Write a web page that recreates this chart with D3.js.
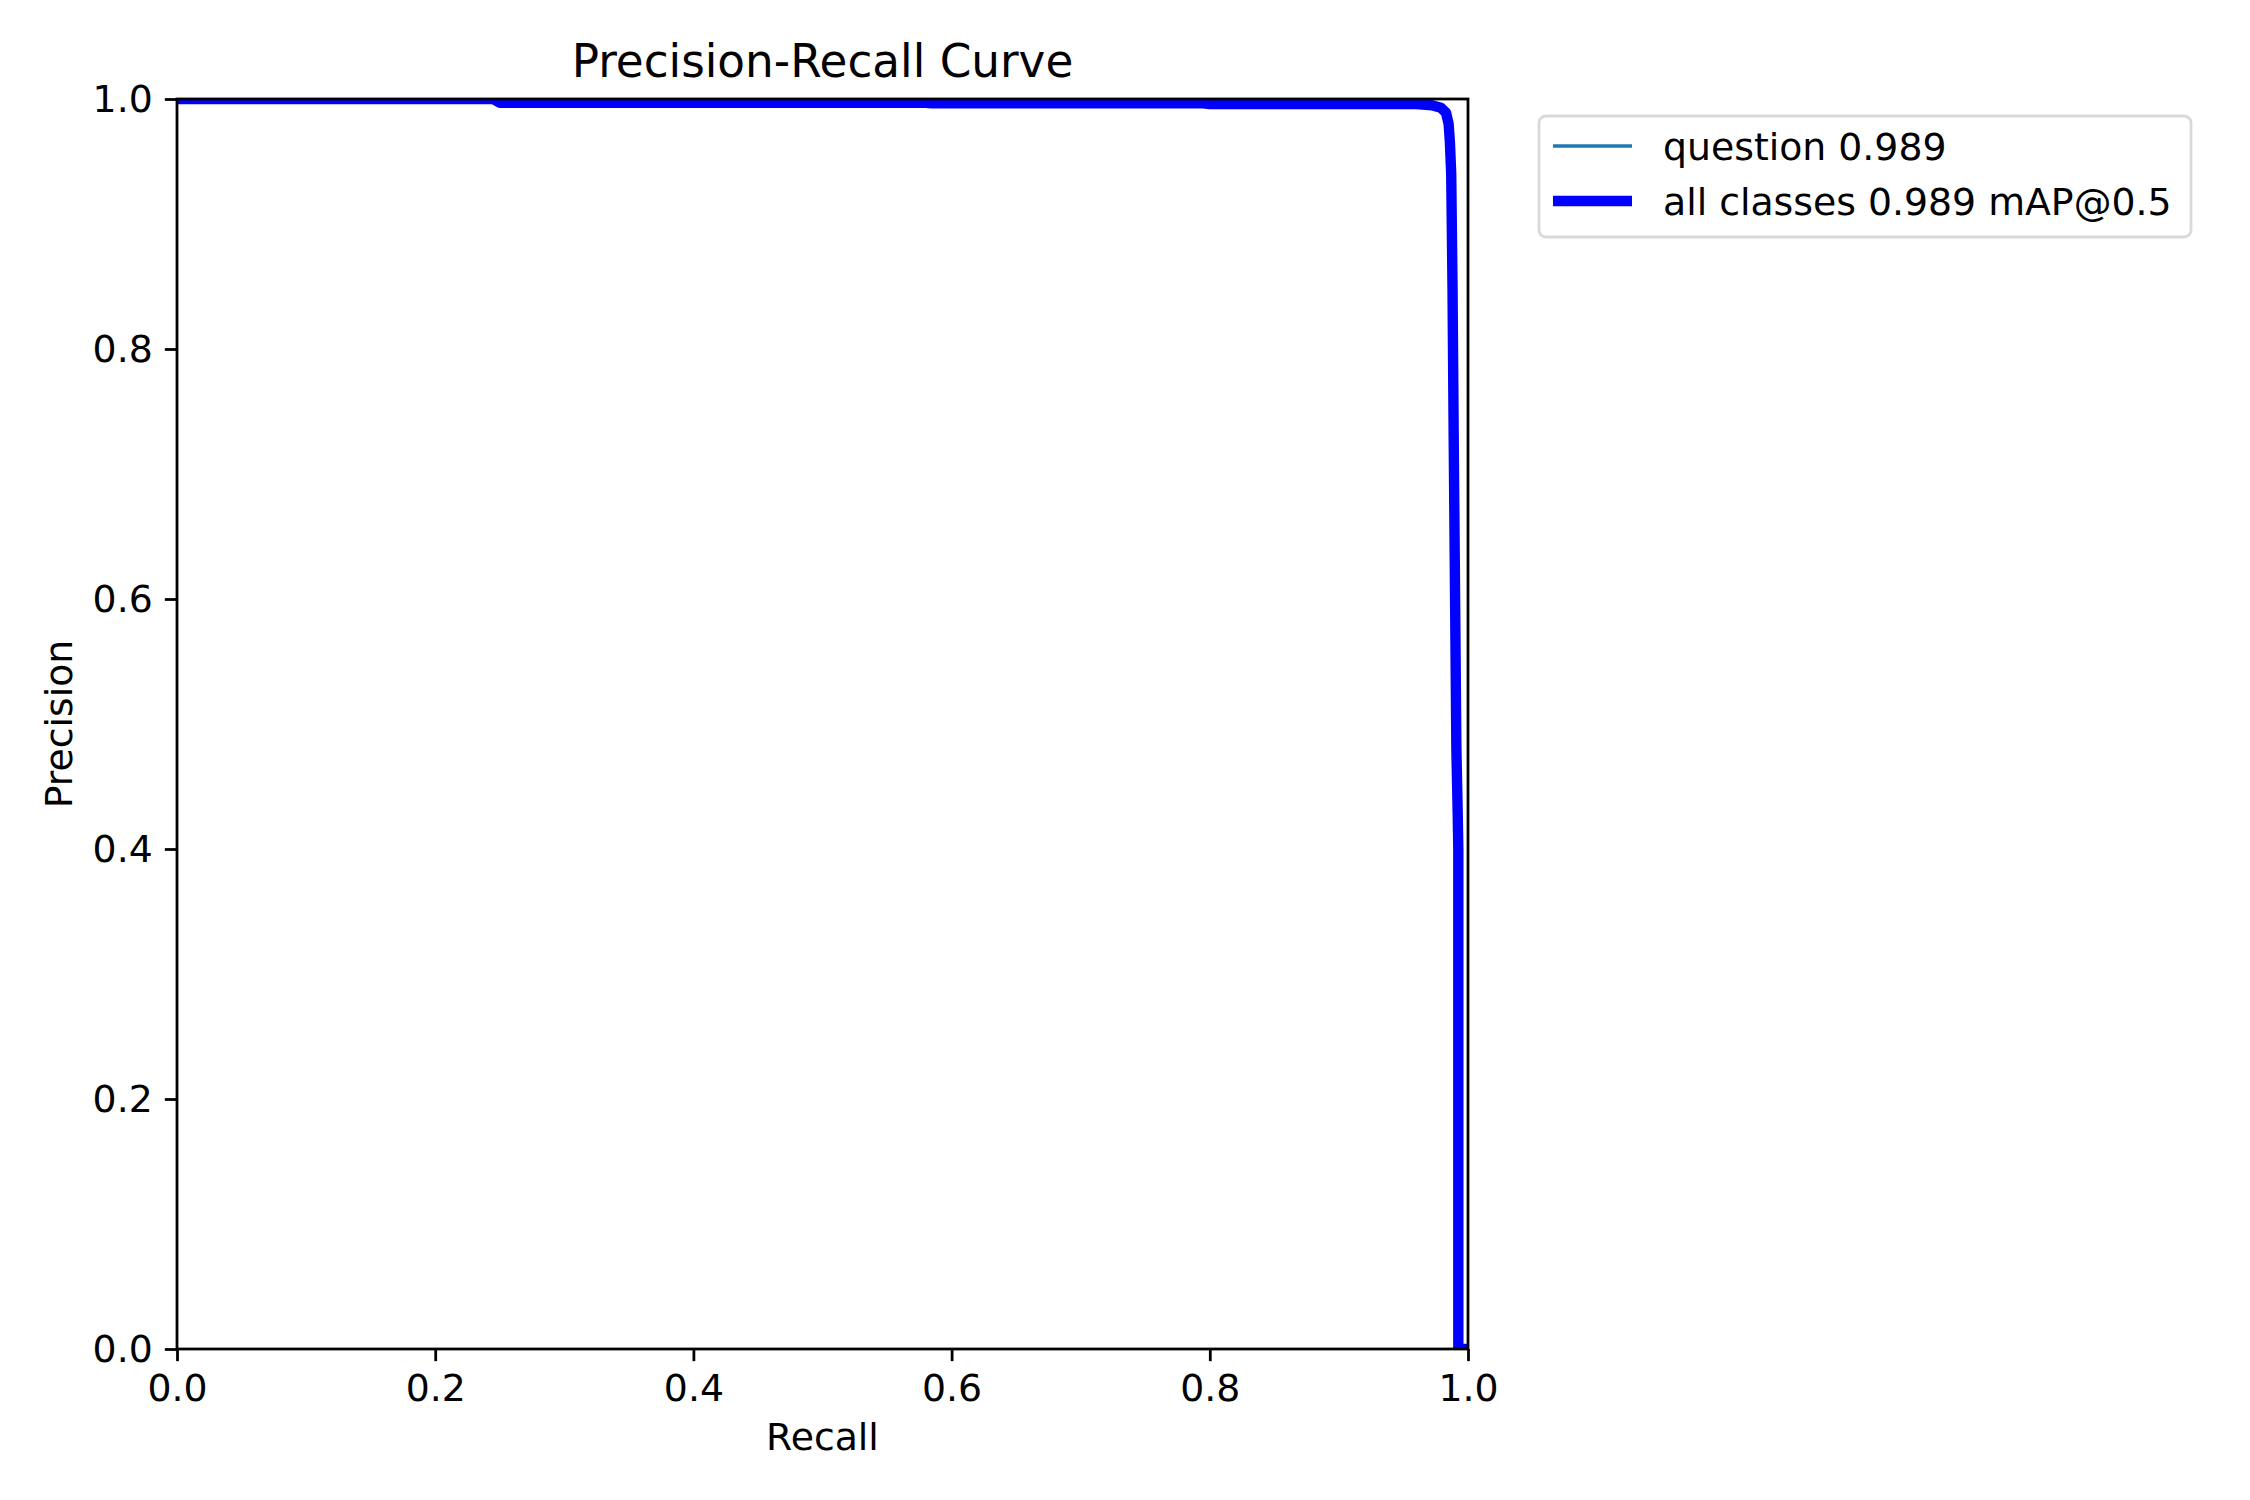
<!DOCTYPE html>
<html>
<head>
<meta charset="utf-8">
<script src="https://cdn.jsdelivr.net/npm/d3@7"></script>
<style>
  body { margin: 0; background: #fff; }
  svg { font-family: "DejaVu Sans", sans-serif; }
</style>
</head>
<body>
<svg width="2250" height="1500"></svg>
<script>
const svg = d3.select("svg");

// PR curve (single class, so both lines share it)
const recall = [0, 0.245, 0.25, 0.58, 0.585, 0.795, 0.80, 0.96, 0.972, 0.979, 0.983, 0.985,
  0.986, 0.987, 0.988, 0.989, 0.990, 0.991, 0.992, 0.9925, 0.9925, 1.0];
const precision = [1.0, 1.0, 0.997, 0.997, 0.9965, 0.9965, 0.996, 0.996, 0.995, 0.993, 0.989, 0.980,
  0.965, 0.94, 0.85, 0.72, 0.60, 0.48, 0.43, 0.40, 0.0, 0.0];

const xTicks = [0, 0.2, 0.4, 0.6, 0.8, 1.0];
const yTicks = [0, 0.2, 0.4, 0.6, 0.8, 1.0];

const legendLabels = ["question 0.989", "all classes 0.989 mAP@0.5"];

const titleText = "Precision-Recall Curve";

// axes box in pixels
const axLeft = 177, axRight = 1468, axTop = 99, axBottom = 1349;
const fs = 37.8;
const tick = 12.15;

const x = d3.scaleLinear().domain([0, 1]).range([axLeft, axRight]);
const y = d3.scaleLinear().domain([0, 1]).range([axBottom, axTop]);

const points = recall.map((r, i) => [r, precision[i]]);
const line = d3.line().x(d => x(d[0])).y(d => y(d[1]));

svg.append("defs").append("clipPath").attr("id", "clip")
  .append("rect")
  .attr("x", axLeft).attr("y", axTop)
  .attr("width", axRight - axLeft).attr("height", axBottom - axTop);

const plot = svg.append("g").attr("clip-path", "url(#clip)");

// per-class line (hidden below the mean line)
plot.append("path")
  .datum(points)
  .attr("d", line)
  .attr("fill", "none")
  .attr("stroke", "#1f77b4")
  .attr("stroke-width", 3.47)
  .attr("stroke-linejoin", "round");

// all classes
plot.append("path")
  .datum(points)
  .attr("d", line)
  .attr("fill", "none")
  .attr("stroke", "#0000ff")
  .attr("stroke-width", 10.4)
  .attr("stroke-linejoin", "round");

// axes
const xAxis = svg.append("g")
  .attr("transform", `translate(0,${axBottom})`)
  .call(d3.axisBottom(x).tickValues(xTicks).tickFormat(d3.format(".1f"))
    .tickSize(tick).tickPadding(tick).tickSizeOuter(0));

const yAxis = svg.append("g")
  .attr("transform", `translate(${axLeft},0)`)
  .call(d3.axisLeft(y).tickValues(yTicks).tickFormat(d3.format(".1f"))
    .tickSize(tick).tickPadding(tick).tickSizeOuter(0));

[xAxis, yAxis].forEach(a => {
  a.select(".domain").remove();
  a.selectAll("line").attr("stroke", "#000").attr("stroke-width", 2.78);
  a.selectAll("text").attr("font-size", fs).attr("fill", "#000")
    .attr("font-family", "DejaVu Sans");
});
xAxis.selectAll("text").attr("dy", "0.74em");

// spines
svg.append("rect")
  .attr("x", axLeft).attr("y", axTop)
  .attr("width", axRight - axLeft).attr("height", axBottom - axTop)
  .attr("fill", "none")
  .attr("stroke", "#000")
  .attr("stroke-width", 2.78);

// title and labels
svg.append("text")
  .attr("x", (axLeft + axRight) / 2).attr("y", 77)
  .attr("text-anchor", "middle")
  .attr("font-size", 45.3)
  .text(titleText);

svg.append("text")
  .attr("x", (axLeft + axRight) / 2).attr("y", 1450)
  .attr("text-anchor", "middle")
  .attr("font-size", fs)
  .text("Recall");

svg.append("text")
  .attr("transform", `translate(72,${(axTop + axBottom) / 2}) rotate(-90)`)
  .attr("text-anchor", "middle")
  .attr("font-size", fs)
  .text("Precision");

// legend
const legend = svg.append("g");
legend.append("rect")
  .attr("x", 1539).attr("y", 116)
  .attr("width", 2191 - 1539).attr("height", 237 - 116)
  .attr("rx", 7)
  .attr("fill", "#fff")
  .attr("fill-opacity", 0.8)
  .attr("stroke", "#d9d9d9")
  .attr("stroke-width", 2.78);

const legendColors = ["#1f77b4", "#0000ff"];
const legendWidths = [3.47, 10.4];
const rowY = d3.scalePoint().domain(legendLabels).range([146, 201]);

legendLabels.forEach((lab, i) => {
  legend.append("line")
    .attr("x1", 1553).attr("x2", 1632)
    .attr("y1", rowY(lab)).attr("y2", rowY(lab))
    .attr("stroke", legendColors[i])
    .attr("stroke-width", legendWidths[i]);
  legend.append("text")
    .attr("x", 1663).attr("y", rowY(lab) + 14)
    .attr("font-size", fs)
    .text(lab);
});
</script>
</body>
</html>
